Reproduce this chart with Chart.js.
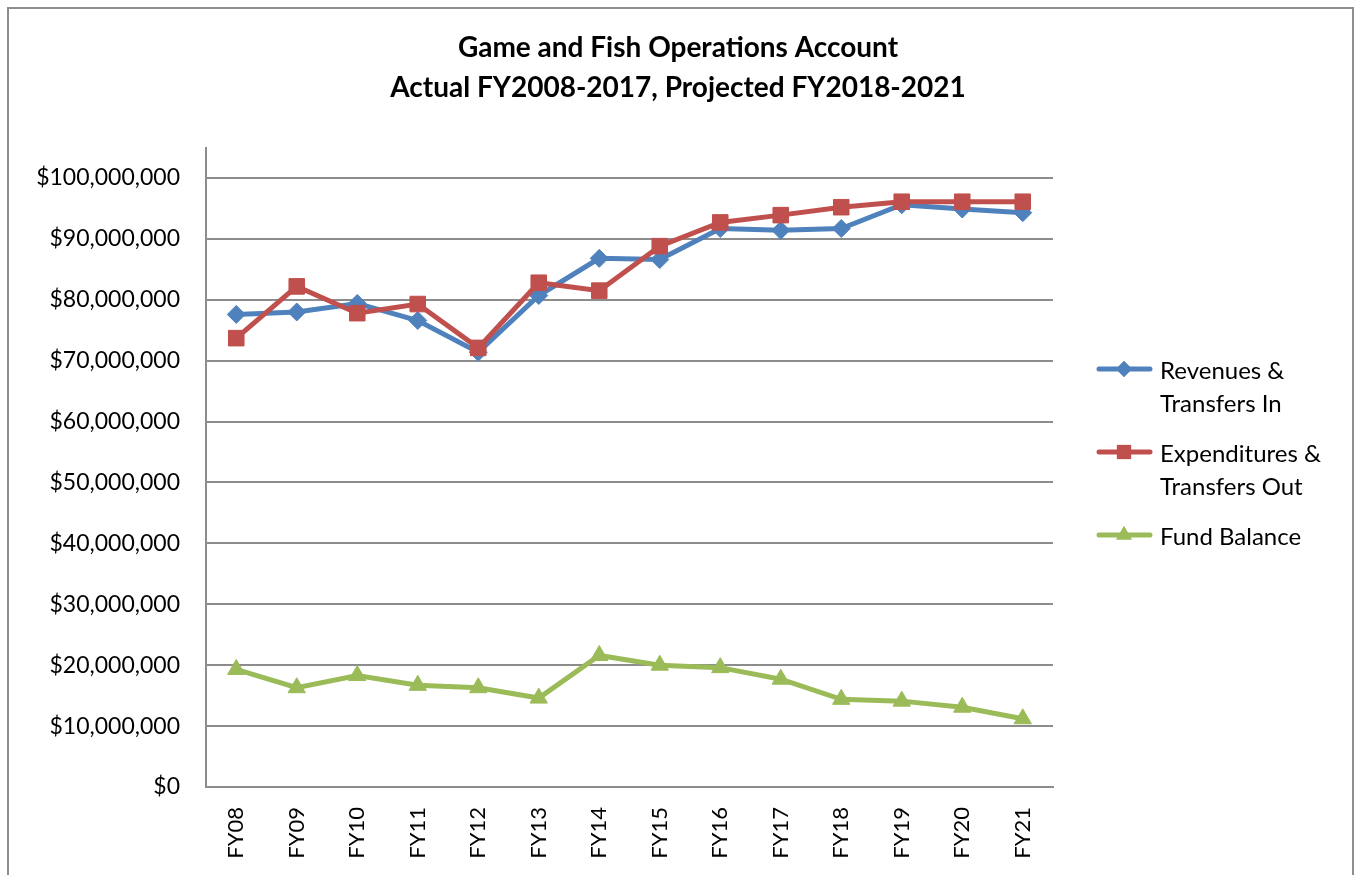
<!DOCTYPE html>
<html>
<head>
<meta charset="utf-8">
<script src="https://cdn.jsdelivr.net/npm/chart.js@4.4.1/dist/chart.umd.min.js"></script>
<style>
  html, body { margin: 0; padding: 0; background: #fff; overflow: hidden; }
  #wrap { position: relative; width: 1356px; height: 875px; }
  #frame { position: absolute; left: 7px; top: 7px; width: 1343px; height: 900px;
           border: 2px solid #8e8e8e; pointer-events: none; }
</style>
</head>
<body>
<div id="wrap">
  <canvas id="chartFund" width="1356" height="875"></canvas>
  <div id="frame"></div>
</div>
<script>
const YEARS = ["FY08", "FY09", "FY10", "FY11", "FY12", "FY13", "FY14",
    "FY15", "FY16", "FY17", "FY18", "FY19", "FY20", "FY21"];

const revenues = [77600000, 78000000, 79400000, 76600000, 71400000, 80700000, 86800000,
    86600000, 91700000, 91400000, 91700000, 95600000, 94900000, 94300000];

const expenditures = [73700000, 82200000, 77800000, 79300000, 72100000, 82800000, 81500000,
    88800000, 92700000, 93900000, 95200000, 96100000, 96100000, 96100000];

const fundBalance = [19300000, 16300000, 18300000, 16700000, 16300000, 14600000, 21600000,
    20000000, 19600000, 17700000, 14400000, 14100000, 13100000, 11200000];

const Y_TICKS = [0, 10000000, 20000000, 30000000, 40000000, 50000000,
    60000000, 70000000, 80000000, 90000000, 100000000];

const BLUE = "#4F81BD";
const RED = "#C0504D";
const GREEN = "#9BBB59";
const FONT = "Lato, 'Open Sans', sans-serif";

// legend drawn by hand so the labels can wrap onto two lines like the original
const legendPlugin = {
    id: "sideLegend",
    afterDraw(chart) {
        const ctx = chart.ctx;
        const items = [
            { lines: ["Revenues &", "Transfers In"], color: BLUE, style: "rectRot", r: 8, y: 369 },
            { lines: ["Expenditures &", "Transfers Out"], color: RED, style: "rect", r: 10, y: 452 },
            { lines: ["Fund Balance"], color: GREEN, style: "triangle", r: 9, y: 535 },
        ];
        ctx.save();
        items.forEach((it) => {
            ctx.strokeStyle = it.color;
            ctx.lineWidth = 5;
            ctx.lineCap = "round";
            ctx.beginPath();
            ctx.moveTo(1099, it.y);
            ctx.lineTo(1150, it.y);
            ctx.stroke();
            ctx.fillStyle = it.color;
            Chart.helpers.drawPoint(ctx, { pointStyle: it.style, radius: it.r, borderWidth: 0, rotation: 0 }, 1124, it.y);
            ctx.fill();
            ctx.fillStyle = "#000";
            ctx.font = "24px " + FONT;
            ctx.textBaseline = "middle";
            ctx.textAlign = "left";
            it.lines.forEach((t, i) => ctx.fillText(t, 1160, it.y + 2 + i * 33));
        });
        ctx.restore();
    },
};

function series(label, data, color, style, radius, order) {
    return {
        label: label,
        data: data,
        borderColor: color,
        backgroundColor: color,
        borderWidth: 5,
        pointStyle: style,
        pointRadius: radius,
        pointHoverRadius: radius,
        pointBorderWidth: 1,
        tension: 0,
        fill: false,
        order: order,
    };
}

const chartFund = document.getElementById("chartFund").getContext("2d");

var myChart = new Chart(chartFund, {
    type: "line",
    data: {
        labels: YEARS,
        datasets: [
            series("Revenues & Transfers In", revenues, BLUE, "rectRot", 9, 1),
            series("Expenditures & Transfers Out", expenditures, RED, "rect", 11, 0),
            series("Fund Balance", fundBalance, GREEN, "triangle", 10, 2),
        ],
    },
    options: {
        responsive: false,
        animation: false,
        layout: {
            padding: { top: 20, right: 0, bottom: 0, left: 0 },
        },
        plugins: {
            legend: { display: false },
            tooltip: { enabled: false },
            title: {
                display: true,
                text: ["Game and Fish Operations Account", "Actual FY2008-2017, Projected FY2018-2021"],
                color: "#000",
                font: { family: FONT, size: 28, weight: "bold", lineHeight: 1.42 },
                padding: { top: 8, bottom: 40 },
            },
        },
        scales: {
            x: {
                offset: true,
                grid: { display: false, drawTicks: false },
                border: { display: true, color: "#8c8c8c", width: 2 },
                ticks: {
                    color: "#000",
                    font: { family: FONT, size: 22 },
                    minRotation: 90,
                    maxRotation: 90,
                    padding: 20,
                },
                afterFit(scale) {
                    scale.height = 88;
                },
            },
            y: {
                min: 0,
                max: 105000000,
                grid: { color: "#8c8c8c", lineWidth: 2, drawTicks: false },
                border: { display: true, color: "#8c8c8c", width: 2 },
                ticks: {
                    color: "#000",
                    font: { family: FONT, size: 23 },
                    padding: 26,
                    callback: (v) => "$" + v.toLocaleString("en-US"),
                },
                afterBuildTicks(scale) {
                    scale.ticks = Y_TICKS.map((v) => ({ value: v }));
                },
                afterFit(scale) {
                    scale.width = 206;
                },
            },
            // empty axis that reserves room on the right for the legend
            side: {
                position: "right",
                min: 0,
                max: 1,
                grid: { display: false, drawTicks: false },
                border: { display: false },
                ticks: { display: false },
                afterFit(scale) {
                    scale.width = 303;
                },
            },
        },
    },
    plugins: [legendPlugin],
});
</script>
</body>
</html>
